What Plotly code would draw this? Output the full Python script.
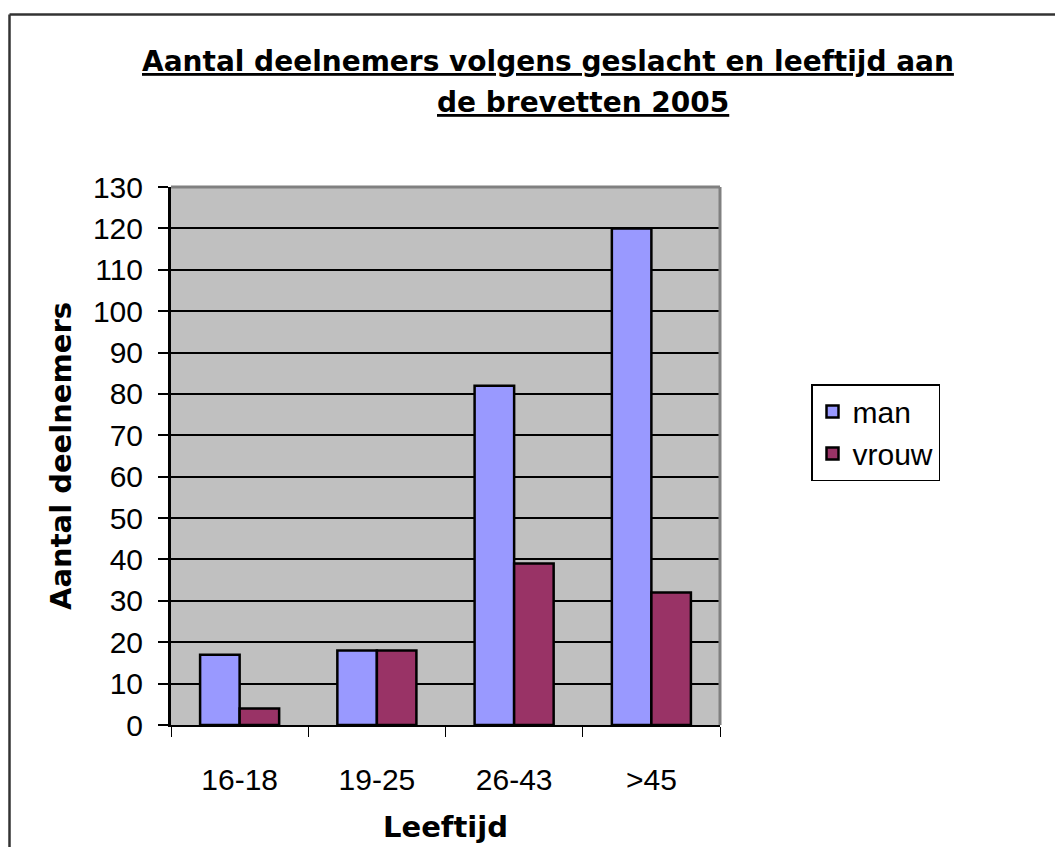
import plotly.graph_objects as go

categories = ['16-18', '19-25', '26-43', '>45']
man = [17, 18, 82, 120]
vrouw = [4, 18, 39, 32]
y_ticks = list(range(0, 131, 10))

title_lines = ['Aantal deelnemers volgens geslacht en leeftijd aan', 'de brevetten 2005']

font_name = 'Liberation Sans, Arial, sans-serif'
bold_font = 'DejaVu Sans, Verdana, sans-serif'

# page is 1063x847, browser body adds 8px margin -> work in figure coords
OFF = 8
W, H = 1063 - OFF, 847 - OFF
L, R, T, B = 171 - OFF, 720 - OFF, 187 - OFF, 725 - OFF


def px_x(p):
    return (p - OFF - L) / (R - L)


def px_y(p):
    return (B - (p - OFF)) / (B - T)


fig = go.Figure()
fig.add_trace(go.Bar(x=categories, y=man, name='man',
                     marker=dict(color='#9999ff', line=dict(color='black', width=2.5))))
fig.add_trace(go.Bar(x=categories, y=vrouw, name='vrouw',
                     marker=dict(color='#993366', line=dict(color='black', width=2.5))))

fig.update_layout(
    width=W, height=H,
    margin=dict(l=L, r=W - R, t=T, b=H - B, autoexpand=False),
    paper_bgcolor='white',
    plot_bgcolor='#c0c0c0',
    barmode='group',
    bargap=0.424,
    bargroupgap=0,
    font=dict(family=font_name, size=30, color='black'),
    legend=dict(
        x=px_x(811), y=px_y(384), xanchor='left', yanchor='top',
        bordercolor='black', borderwidth=1.5, bgcolor='white',
        font=dict(family=font_name, size=30),
    ),
    showlegend=True,
)

# title, two underlined lines
ul = 'text-decoration:underline'
for line, cx, cy in zip(title_lines, [548, 583], [61, 102]):
    fig.add_annotation(
        text=f'<b><span style="{ul}">{line}</span></b>',
        xref='paper', yref='paper', x=px_x(cx), y=px_y(cy),
        xanchor='center', yanchor='middle', showarrow=False,
        font=dict(family=bold_font, size=28, color='black'),
    )

fig.update_xaxes(
    type='category',
    showline=True, linecolor='black', linewidth=2,
    showgrid=False,
    ticks='outside', tickson='boundaries', ticklen=10, tickcolor='black', tickwidth=1,
    ticklabelstandoff=27,
    title=dict(text='<b>Leeftijd</b>', standoff=22, font=dict(family=bold_font, size=29)),
    tickfont=dict(size=30),
)
fig.update_yaxes(
    range=[0, 130], tickvals=y_ticks,
    showline=True, linecolor='black', linewidth=3,
    showgrid=True, gridcolor='black', gridwidth=1.5,
    ticks='outside', ticklen=10, tickcolor='black', tickwidth=1.5,
    ticklabelstandoff=9,
    title=dict(text='<b>Aantal deelnemers</b>', standoff=13, font=dict(family=bold_font, size=29)),
    tickfont=dict(size=30),
    zeroline=False,
)

# gray frame on top/right of the plot area
fig.add_shape(type='line', xref='paper', yref='paper', x0=0, x1=1, y0=1, y1=1,
              line=dict(color='#808080', width=3), layer='above')
fig.add_shape(type='line', xref='paper', yref='paper', x0=1, x1=1, y0=0, y1=1,
              line=dict(color='#808080', width=3), layer='above')

# outer chart border (runs off the right and bottom edges)
fig.add_shape(type='line', xref='paper', yref='paper', x0=px_x(9.5), x1=px_x(1070),
              y0=px_y(14.5), y1=px_y(14.5), line=dict(color='#333333', width=2.5))
fig.add_shape(type='line', xref='paper', yref='paper', x0=px_x(9.5), x1=px_x(9.5),
              y0=px_y(14.5), y1=px_y(860), line=dict(color='#333333', width=2.5))

fig.write_html('out.html')
